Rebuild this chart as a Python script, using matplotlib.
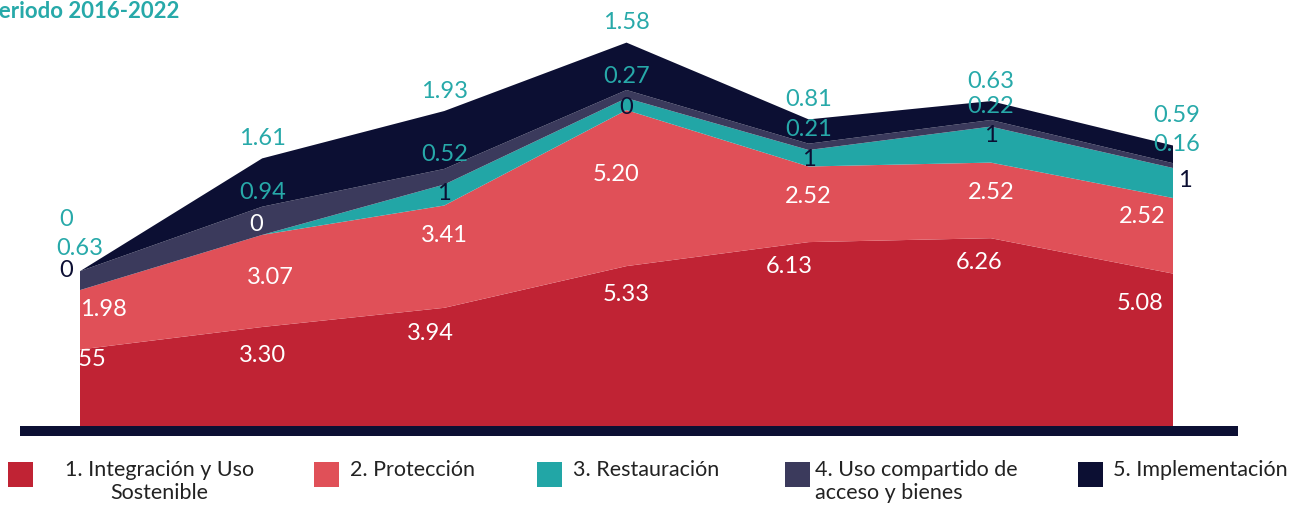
import numpy as np
import matplotlib.pyplot as plt
from matplotlib.patches import Rectangle

plt.rcParams['font.family'] = ['Lato', 'DejaVu Sans']

years = [2016, 2017, 2018, 2019, 2020, 2021, 2022]
integracion = [2.55, 3.30, 3.94, 5.33, 6.13, 6.26, 5.08]
proteccion = [1.98, 3.07, 3.41, 5.20, 2.52, 2.52, 2.52]
restauracion = [0.0, 0.0, 0.7, 0.4, 0.55, 1.2, 1.0]
uso_compartido = [0.63, 0.94, 0.52, 0.27, 0.21, 0.22, 0.16]
implementacion = [0.0, 1.61, 1.93, 1.58, 0.81, 0.63, 0.59]

series_names = ["1. Integración y Uso\nSostenible", "2. Protección", "3. Restauración",
                "4. Uso compartido de\nacceso y bienes", "5. Implementación"]
decimals = [2, 2, 0, 2, 2]

colors = ["#C02334", "#E05058", "#22A6A6", "#3B3A5C", "#0C0F33"]
label_colors = ["white", "white", "#0C0F33", "#27A9A9", "#27A9A9"]
TEAL = "#27A9A9"
NAVY = "#0C0F33"


def fmt(v, d):
    return "0" if v == 0 else f"{v:.{d}f}"


W, H = 1302, 514
fig = plt.figure(figsize=(W / 100, H / 100), dpi=100)
ax = fig.add_axes([80 / W, 88 / H, 1093 / W, 405 / H])
ax.set_xlim(years[0], years[-1])
ax.set_ylim(0, 13.5)
ax.axis("off")

data = [integracion, proteccion, restauracion, uso_compartido, implementacion]
ax.stackplot(years, *data, colors=colors, linewidth=0)
tops = np.cumsum(np.array(data), axis=0)

# default label offset (pixels) from the top of each layer
base_dy = [-28, -30, -9, 14, 20]
# (series, point) -> (dx, dy, ha, color)
overrides = {
    (0, 0): (3, -10, "center", None),
    (1, 0): (0, -19, "left", None),
    (2, 0): (-7, 20, "right", None),
    (3, 0): (0, 23, "center", None),
    (4, 0): (-7, 52, "right", None),
    (1, 1): (8, -43, "center", None),
    (2, 1): (-6, 10, "center", "white"),
    (1, 3): (-10, -64, "center", None),
    (0, 2): (-14, -26, "center", None),
    (0, 4): (-19, -24, "center", None),
    (0, 5): (-12, -24, "center", None),
    (0, 6): (-10, -30, "right", None),
    (1, 6): (-8, -18, "right", None),
    (2, 6): (5, -12, "left", None),
    (3, 6): (4, 19, "center", None),
    (4, 6): (4, 30, "center", None),
}

for s, vals in enumerate(data):
    for i, yr in enumerate(years):
        dx, dy, ha, col = overrides.get((s, i), (0, base_dy[s], "center", None))
        ax.annotate(fmt(vals[i], decimals[s]), xy=(yr, tops[s, i]),
                    xytext=(dx, dy), textcoords="offset pixels",
                    ha=ha, va="center", fontsize=17,
                    color=col or label_colors[s], annotation_clip=False)

# baseline bar
fig.add_artist(Rectangle((20 / W, (H - 436) / H), 1218 / W, 10 / H,
                         transform=fig.transFigure, color=NAVY, lw=0))

# title (cut at the left edge like the original)
fig.text(-15 / W, 1 - 11 / H, "Periodo 2016-2022", color=TEAL,
         fontsize=16, fontweight="bold", va="center", ha="left")

# legend
sq_x = [8, 314, 537, 785, 1078]
txt_x = [65, 350, 573, 815, 1113]
malign = ["center", "left", "left", "left", "left"]
for k, name in enumerate(series_names):
    fig.add_artist(Rectangle((sq_x[k] / W, (H - 487) / H), 25 / W, 25 / H,
                             transform=fig.transFigure, color=colors[k], lw=0))
    fig.text(txt_x[k] / W, 1 - 460 / H, name, fontsize=15.5, color="#222222",
             ha="left", va="top", multialignment=malign[k], linespacing=1.2)

fig.savefig("out.png", dpi=100)
